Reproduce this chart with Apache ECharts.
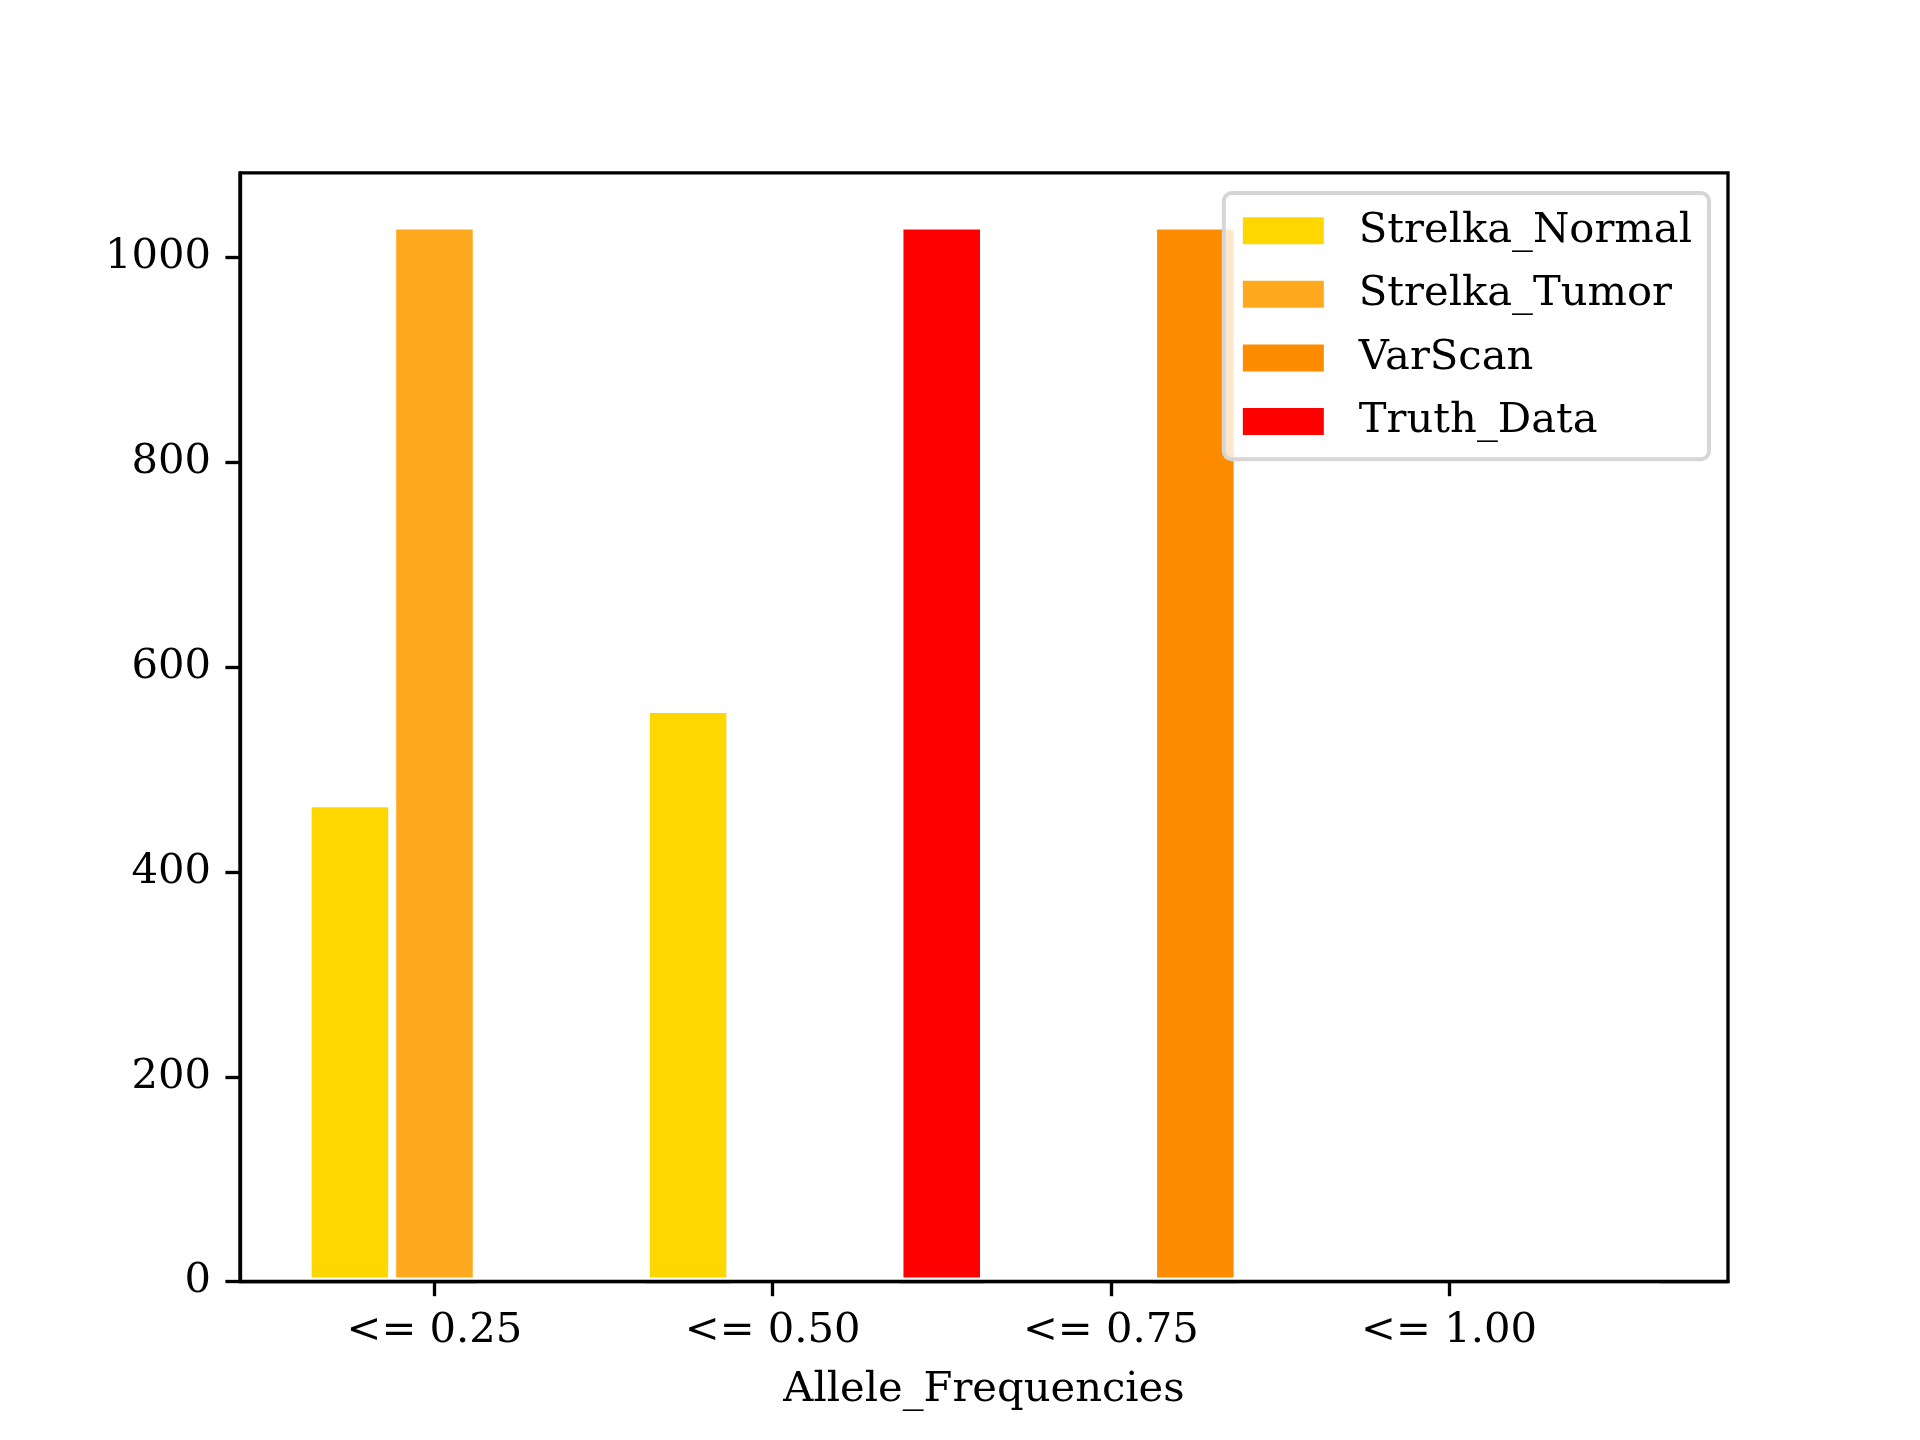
<!DOCTYPE html>
<html>
<head>
<meta charset="utf-8">
<script src="https://cdn.jsdelivr.net/npm/echarts@6/dist/echarts.min.js"></script>
<style>
  html, body { margin: 0; padding: 0; background: #ffffff; }
  #chart { width: 1920px; height: 1440px; }
</style>
</head>
<body>
<div id="chart"></div>
<script>
const categories = ['<= 0.25', '<= 0.50', '<= 0.75', '<= 1.00'];
const seriesNames = ['Strelka_Normal', 'Strelka_Tumor', 'VarScan', 'Truth_Data'];
const strelkaNormal = [467, 559, 0, 0];
const strelkaTumor = [1031, 0, 0, 0];
const varScan = [0, 0, 1031, 0];
const truthData = [0, 1031, 0, 0];
const yTicks = [0, 200, 400, 600, 800, 1000];
const xTickPositions = [0, 1, 2, 3];

const seriesValues = [strelkaNormal, strelkaTumor, varScan, truthData];
const seriesColors = ['#FFD700', '#FFA91F', '#FF8C00', '#FF0000'];
const seriesOffsets = [-0.25, 0, 0.25, 0.5];
const barUnit = 0.25;

const gridLeft = 240, gridRight = 192, gridTop = 172.8, gridBottom = 158.4;
const xMin = -0.575, xMax = 3.825;
const plotWidth = 1920 - gridLeft - gridRight;
const barPx = barUnit * plotWidth / (xMax - xMin);

const FONT = 'DejaVu Serif';
const FS = 41.67;

const chart = echarts.init(document.getElementById('chart'), null, { renderer: 'canvas' });

const series = seriesNames.map((name, s) => ({
  name: name,
  type: 'bar',
  barWidth: barPx,
  barGap: '-100%',
  z: 2,
  itemStyle: { color: seriesColors[s], borderColor: '#ffffff', borderWidth: 4 },
  emphasis: { disabled: true },
  data: seriesValues[s].map((v, i) => [i + seriesOffsets[s], v])
}));

const option = {
  animation: false,
  backgroundColor: '#ffffff',
  grid: {
    left: gridLeft, right: gridRight, top: gridTop, bottom: gridBottom,
    show: true, borderColor: '#000000', borderWidth: 3.33, backgroundColor: 'transparent'
  },
  legend: {
    orient: 'vertical',
    right: 211,
    top: 193,
    data: seriesNames,
    icon: 'rect',
    itemWidth: 83,
    itemHeight: 29,
    itemGap: 21.6,
    padding: [16.7, 17, 16.7, 17],
    backgroundColor: 'rgba(255,255,255,0.8)',
    borderColor: '#d6d6d6',
    borderWidth: 4,
    borderRadius: 8,
    z: 20,
    textStyle: {
      fontFamily: FONT, fontSize: FS, color: '#000000', lineHeight: 42,
      padding: [0, 0, 0, 29]
    }
  },
  xAxis: {
    type: 'value',
    min: xMin,
    max: xMax,
    z: 10,
    splitLine: { show: false },
    axisLine: { show: true, onZero: false, lineStyle: { color: '#000000', width: 3.33 } },
    axisTick: {
      show: true, length: 14.6, lineStyle: { color: '#000000', width: 3.33 },
      customValues: xTickPositions
    },
    axisLabel: {
      customValues: xTickPositions,
      margin: 29,
      fontFamily: FONT, fontSize: FS, color: '#000000',
      formatter: (v) => categories[Math.round(v)]
    },
    name: 'Allele_Frequencies',
    nameLocation: 'middle',
    nameGap: 88,
    nameTextStyle: { fontFamily: FONT, fontSize: FS, color: '#000000' }
  },
  yAxis: {
    type: 'value',
    min: 0,
    max: 1082.55,
    z: 10,
    splitLine: { show: false },
    axisLine: { show: true, onZero: false, lineStyle: { color: '#000000', width: 3.33 } },
    axisTick: {
      show: true, length: 14.6, lineStyle: { color: '#000000', width: 3.33 },
      customValues: yTicks
    },
    axisLabel: {
      customValues: yTicks,
      margin: 29,
      fontFamily: FONT, fontSize: FS, color: '#000000',
      formatter: (v) => String(v)
    }
  },
  series: series
};

chart.setOption(option);
</script>
</body>
</html>
